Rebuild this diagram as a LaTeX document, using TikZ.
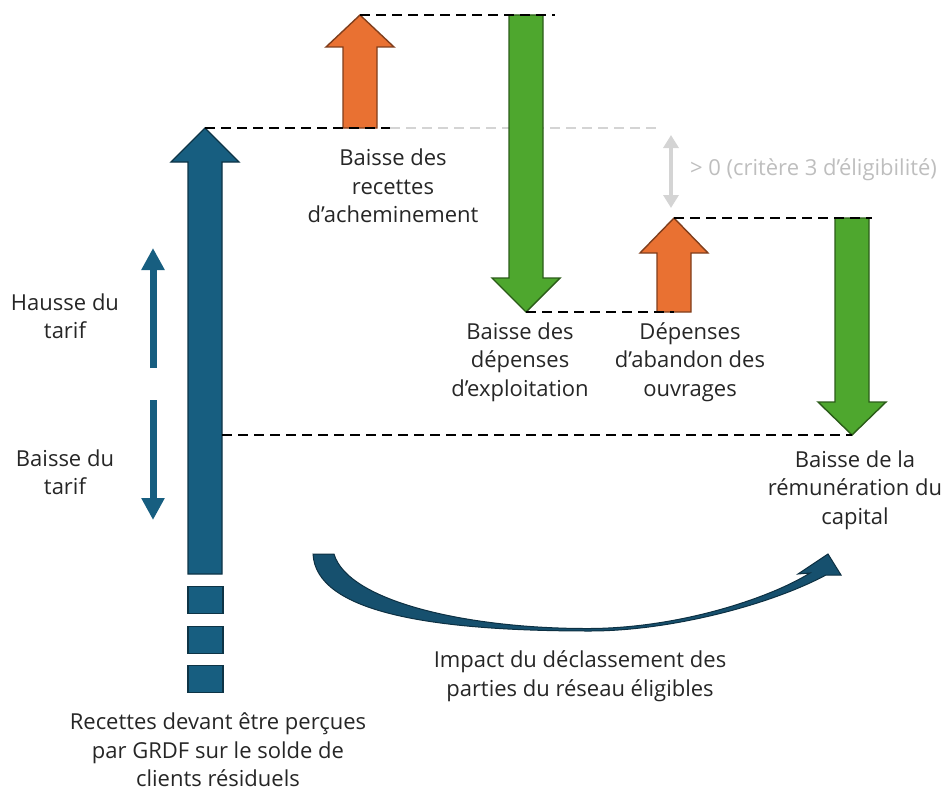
\documentclass[tikz,border=0pt]{standalone}
\usepackage{fontspec}
\setmainfont{Open Sans}
\usetikzlibrary{arrows.meta}
\definecolor{bleuA}{RGB}{23,94,128}
\definecolor{bleuC}{RGB}{22,80,110}
\definecolor{orangeA}{RGB}{233,113,50}
\definecolor{vertA}{RGB}{78,167,46}
\definecolor{grisA}{RGB}{212,212,212}
\definecolor{grisT}{RGB}{190,190,190}
\definecolor{texte}{RGB}{38,38,38}
\begin{document}
\begin{tikzpicture}[x=1pt,y=-1pt,every node/.style={font=\fontsize{22}{28.5}\selectfont, text=texte, align=center, inner sep=0pt, outer sep=0pt},
tiret/.style={dash pattern=on 10pt off 6pt, line width=1.8pt},
bloc/.style={fill=bleuA, draw=bleuA!55!black, line width=1.4pt, minimum width=35pt, minimum height=27pt},
petite/.style={bleuA, line width=7pt, -{Triangle[width=22pt,length=22pt]}}]
\useasboundingbox (0,0) rectangle (947,792);
\coordinate (coupure) at (390,128);
\coordinate (gris-fin) at (658,128);
\draw[tiret, grisA] (coupure) -- (gris-fin);
\foreach \n/\cx/\ty/\hy/\by/\c in {recettes/205/128/162/574/bleuA, acheminement/360/15/47/128/orangeA, exploitation/526/312/278/15/vertA, abandon/674/218/253/312/orangeA, capital/852/435/402/218/vertA} {
\draw[fill=\c, draw=\c!55!black, line width=1.4pt, line join=miter] (\cx-17,\by) -- (\cx-17,\hy) -- (\cx-34,\hy) -- (\cx,\ty) -- (\cx+34,\hy) -- (\cx+17,\hy) -- (\cx+17,\by) -- cycle;
\coordinate (\n-tip) at (\cx,\ty);
\coordinate (\n-tail) at (\cx,\by);
}
\foreach \y in {600,640,679} {
\node[bloc] at (205.5,\y) {};
}
\coordinate (haut-fin) at (555,15);
\coordinate (milieu-fin) at (872,218);
\coordinate (bas-debut) at (222,435);
\draw[tiret] (acheminement-tip) -- (haut-fin);
\draw[tiret] (recettes-tip) -- (coupure);
\draw[tiret] (exploitation-tip) -- (abandon-tail);
\draw[tiret] (abandon-tip) -- (milieu-fin);
\draw[tiret] (bas-debut) -- (capital-tip);
\coordinate (hausse-debut) at (153,368);
\coordinate (hausse-fin) at (153,248);
\coordinate (baisse-debut) at (153,400);
\coordinate (baisse-fin) at (153,520);
\draw[petite] (hausse-debut) -- (hausse-fin);
\draw[petite] (baisse-debut) -- (baisse-fin);
\coordinate (ecart-haut) at (671,135);
\coordinate (ecart-bas) at (671,208);
\draw[grisA, line width=3.5pt, {Triangle[width=15pt,length=13pt]}-{Triangle[width=15pt,length=13pt]}] (ecart-haut) -- (ecart-bas);
\node[anchor=west, text=grisT] (critere) at (690,170) {> 0 (critère 3 d’éligibilité)};
\fill[bleuC, draw=bleuC!60!black, line width=1pt] (313,554) .. controls (316,612) and (430,631) .. (590,631) .. controls (670,631) and (770,605) .. (826,575) -- (841,575) -- (828,554) -- (798,574) -- (810,573) .. controls (770,598) and (680,628) .. (590,628.5) .. controls (470,629) and (348,602) .. (334,554) -- cycle;
\node (hausse) at (65,316) {Hausse du\\tarif};
\node (baisse) at (65,472) {Baisse du\\tarif};
\node (lbl-acheminement) at (393,186) {Baisse des\\recettes\\d’acheminement};
\node (lbl-exploitation) at (520,362) {Baisse des\\dépenses\\d’exploitation};
\node (lbl-abandon) at (690,362) {Dépenses\\d’abandon des\\ouvrages};
\node (lbl-capital) at (855,490) {Baisse de la\\rémunération du\\capital};
\node (impact) at (580,676) {Impact du déclassement des\\parties du réseau éligibles};
\node (lbl-recettes) at (218,750) {Recettes devant être perçues\\par GRDF sur le solde de\\clients résiduels};
\end{tikzpicture}
\end{document}
